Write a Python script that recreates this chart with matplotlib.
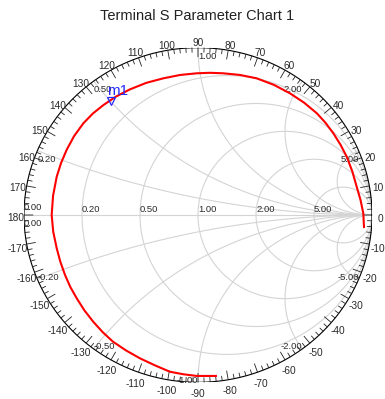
import matplotlib
matplotlib.use("Agg")
import matplotlib.pyplot as plt
import numpy as np

plt.rcParams['font.family'] = ['Liberation Sans', 'DejaVu Sans']

s11_re = [0.103, -0.007, -0.084, -0.161, -0.247, -0.333, -0.413, -0.489, -0.548,
          -0.602, -0.653, -0.697, -0.734, -0.764, -0.791, -0.812, -0.832, -0.841,
          -0.833, -0.812, -0.787, -0.755, -0.712, -0.659, -0.605, -0.544, -0.471,
          -0.391, -0.297, -0.199, -0.103, -0.007, 0.069, 0.145, 0.242, 0.337,
          0.436, 0.529, 0.609, 0.683, 0.733, 0.778, 0.819, 0.855, 0.887, 0.912,
          0.934, 0.950, 0.954]
s11_im = [-0.962, -0.962, -0.952, -0.937, -0.899, -0.857, -0.810, -0.757, -0.700,
          -0.638, -0.570, -0.498, -0.430, -0.359, -0.280, -0.199, -0.100, 0.0,
          0.115, 0.229, 0.311, 0.389, 0.472, 0.548, 0.606, 0.657, 0.708,
          0.751, 0.790, 0.817, 0.837, 0.847, 0.850, 0.847, 0.837, 0.817,
          0.778, 0.727, 0.672, 0.608, 0.551, 0.488, 0.420, 0.348, 0.260, 0.169,
          0.090, 0.010, -0.072]

marker_name = "m1"
marker_re = -0.50
marker_im = 0.68

grid_values = [0.2, 0.5, 1.0, 2.0, 5.0]
angle_labels = list(range(0, 181, 10)) + list(range(-170, 0, 10))

title = "Terminal S Parameter Chart 1"

grid_color = "#d4d4d4"
label_color = "#2a2a2a"

fig = plt.figure(figsize=(3.85, 3.99), dpi=100)
ax = fig.add_axes([24 / 385, (399 - 382.3) / 399, 348 / 385, 334.6 / 399])
ax.set_xlim(-1, 1)
ax.set_ylim(-1, 1)
ax.axis("off")

t = np.linspace(0, 2 * np.pi, 400)

# resistance circles
for r in grid_values:
    c = r / (1 + r)
    rad = 1 / (1 + r)
    ax.plot(c + rad * np.cos(t), rad * np.sin(t), color=grid_color, lw=0.8, zorder=1)

# reactance arcs
rr = np.concatenate([[0], np.geomspace(1e-3, 1e4, 600)])
for x in grid_values:
    for s in (1, -1):
        z = rr + 1j * s * x
        g = (z - 1) / (z + 1)
        ax.plot(g.real, g.imag, color=grid_color, lw=0.8, zorder=1)

# real axis
ax.plot([-1, 1], [0, 0], color=grid_color, lw=0.8, zorder=1)

# outer circle and degree ticks
ax.plot(np.cos(t), np.sin(t), color="black", lw=0.8, zorder=3)
for deg in range(-180, 180, 2):
    a = np.deg2rad(deg)
    ln = 9 if deg % 10 == 0 else 4.5
    ax.annotate("", xy=(np.cos(a), np.sin(a)), xycoords="data",
                xytext=(-ln * np.cos(a), -ln * np.sin(a)), textcoords="offset pixels",
                arrowprops=dict(arrowstyle="-", color="#222222", lw=0.6,
                                shrinkA=0, shrinkB=0))

for deg in angle_labels:
    a = np.deg2rad(deg)
    ax.annotate(str(deg), xy=(1.05 * np.cos(a), 1.05 * np.sin(a)),
                xytext=(0, -3.5), textcoords="offset pixels",
                ha="center", va="center", fontsize=7.3, color=label_color,
                annotation_clip=False)

# resistance labels along the real axis
ax.annotate("0.00", xy=(-1, 0), xytext=(0, 2.5), textcoords="offset pixels",
            ha="left", va="bottom", fontsize=6.8, color=label_color)
ax.annotate("0.00", xy=(-1, 0), xytext=(0, -8.5), textcoords="offset pixels",
            ha="left", va="center", fontsize=6.8, color=label_color)
for r in grid_values:
    ax.annotate("%.2f" % r, xy=((r - 1) / (r + 1), 0), xytext=(0, 1),
                textcoords="offset pixels", ha="left", va="bottom",
                fontsize=6.8, color=label_color)

# reactance labels on the unit circle
for x in grid_values:
    a = np.pi - 2 * np.arctan(x)
    px, py = np.cos(a), np.sin(a)
    ha_up = "left" if x <= 1 else "right"
    ha_dn = "left" if x < 1 else "right"
    ax.annotate("%.2f" % x, xy=(px, py), xytext=(0, -8.5), textcoords="offset pixels",
                ha=ha_up, va="center", fontsize=6.8, color=label_color)
    ax.annotate("-%.2f" % x, xy=(px, -py), xytext=(0, 2), textcoords="offset pixels",
                ha=ha_dn, va="center", fontsize=6.8, color=label_color)

# trace
ax.plot(s11_re, s11_im, color="red", lw=1.5, zorder=4, solid_joinstyle="round")

# marker
ax.plot([marker_re], [marker_im], marker="v", ms=6, mfc="none", mec="#2a2aff",
        mew=0.9, zorder=5)
ax.annotate(marker_name, xy=(marker_re, marker_im), xytext=(7, 10),
            textcoords="offset pixels", ha="center", va="center",
            fontsize=11, color="#2a2aff", zorder=6)

fig.text(197.5 / 385, 1 - 16.5 / 399, title, ha="center", va="center",
         fontsize=10.5, color="#222222")

fig.savefig("out.png", dpi=100)
